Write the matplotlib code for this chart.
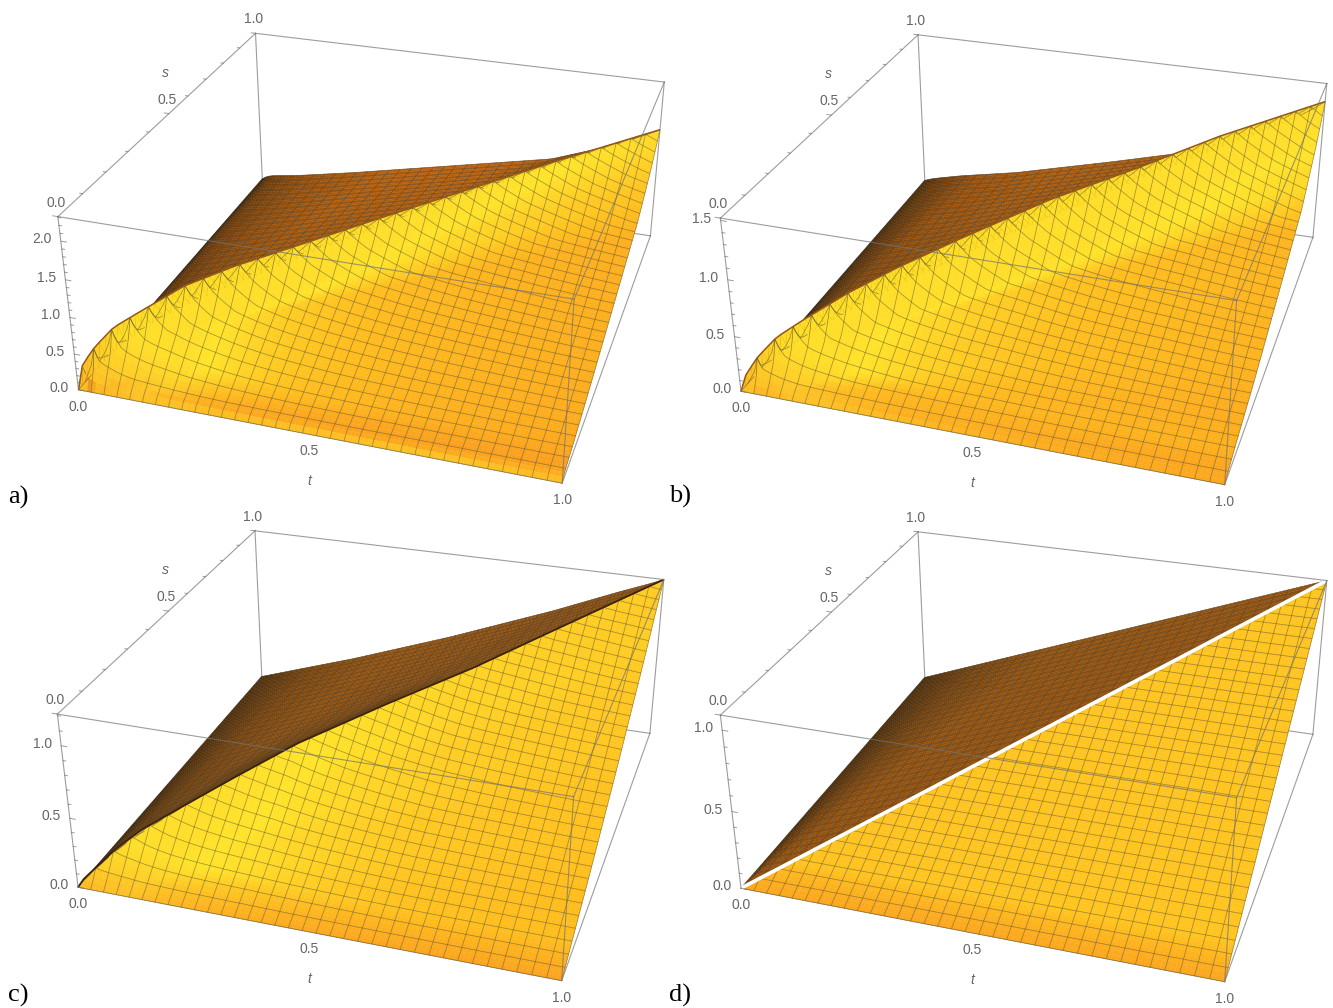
import numpy as np
import matplotlib
matplotlib.use("Agg")
import matplotlib.pyplot as plt
from mpl_toolkits.mplot3d import proj3d
from mpl_toolkits.mplot3d.art3d import Line3DCollection, Poly3DCollection

# -----------------------------
# Values
# -----------------------------
# height along the fold t = s
RIDGE_M = [0, 0.01, 0.03, 0.06, 0.1, 0.17, 0.25, 0.35, 0.5, 0.65, 0.8, 1]
RIDGE_A = [0, 0.33, 0.52, 0.72, 0.84, 1.04, 1.14, 1.21, 1.32, 1.42, 1.52, 1.62]
RIDGE_B = [0, 0.14, 0.27, 0.40, 0.49, 0.63, 0.75, 0.87, 1.03, 1.13, 1.25, 1.35]
RIDGE_C = [0, 0.05, 0.11, 0.20, 0.29, 0.39, 0.50, 0.63, 0.76, 0.875, 1.02, 1.21]
RIDGE_D = [0, 0.011, 0.033, 0.065, 0.109, 0.185, 0.272, 0.382, 0.545, 0.708, 0.872, 1.09]

# share of the fold height as one leaves the fold, against min(t, s) / max(t, s)
SHAPE_R = [0, 0.01, 0.03, 0.1, 0.25, 0.5, 0.75, 0.9, 0.97, 1]
SHAPE_A = [0, 0.03, 0.05, 0.09, 0.20, 0.40, 0.60, 0.81, 0.94, 1]
SHAPE_B = [0, 0.012, 0.03, 0.08, 0.17, 0.36, 0.56, 0.79, 0.93, 1]
SHAPE_C = [0, 0.008, 0.026, 0.088, 0.22, 0.46, 0.72, 0.89, 0.965, 1]
SHAPE_D = [0, 0.01, 0.03, 0.1, 0.25, 0.5, 0.75, 0.9, 0.97, 1]

Z_TOP = [2.31, 1.52, 1.21, 1.09]
Z_TICKS = [[0, 0.5, 1, 1.5, 2], [0, 0.5, 1, 1.5], [0, 0.5, 1], [0, 0.5, 1]]
TS_TICKS = [0, 0.5, 1]
PANEL_NAMES = ["a)", "b)", "c)", "d)"]

# -----------------------------
# Camera and layout
# -----------------------------
W, H = 1333, 1008
SCALE = 3576.5
ORIGIN_PX = (387.77, 227.3)
PANEL_SHIFT = [(0, 0), (662.5, 1.5), (-0.5, 497.5), (662.5, 498.5)]
PANEL_LABEL_PX = [(18, 497), (680, 496), (18, 995), (680, 995)]

MESH_CELLS = 35
SUB = 3

GRAY_TEXT = "#666666"
BOX_COLOR = (0.45, 0.45, 0.45, 0.7)
MESH_COLOR = (0.28, 0.26, 0.2, 0.5)
RIDGE_LINE = ["#96581a", "#96581a", "#3c240c", "white"]
RIDGE_WIDTH = [1.1, 1.1, 1.3, 2.6]

ORANGE = np.array((250, 155, 30)) / 255
YELLOW_DEG = [0, 10, 20, 32, 48, 62, 75, 88]
YELLOW_RGB = np.array([(245, 150, 30), (252, 168, 28), (255, 190, 28), (255, 228, 40),
                       (255, 205, 35), (240, 150, 30), (180, 100, 20), (110, 65, 15)]) / 255
BROWN_DEG = [0, 10, 20, 40, 70]
BROWN_RGB = np.array([(225, 120, 8), (195, 100, 10), (150, 82, 12),
                      (90, 55, 15), (50, 32, 12)]) / 255


def ramp(deg, stops, rgb):
    return np.stack([np.interp(deg, stops, rgb[:, c]) for c in range(3)], axis=-1)


def build_surface(ridge, shape, z_top):
    # resample the read values so that the mesh runs smooth
    r_fine = np.linspace(0, 1, 1001)
    slope = np.gradient(np.interp(r_fine, SHAPE_R, shape), r_fine)
    narrow = np.convolve(np.pad(slope, 10, mode="edge"), np.ones(21) / 21, mode="valid")
    wide = np.convolve(np.pad(slope, 60, mode="edge"), np.ones(121) / 121, mode="valid")
    g_fine = np.r_[0, np.cumsum((narrow[1:] + narrow[:-1]) / 2 * np.diff(r_fine))]
    g_fine /= g_fine[-1]
    blend = np.clip((r_fine - 0.04) / 0.1, 0, 1)
    shade_slope = narrow * (1 - blend) + wide * blend

    def height(t, s):
        m = np.maximum(t, s)
        r = np.minimum(t, s) / np.maximum(m, 1e-9)
        return np.interp(m, RIDGE_M, ridge) * np.interp(r, r_fine, g_fine)

    def slope_deg(t, s):
        m = np.maximum(t, s)
        r = np.minimum(t, s) / np.maximum(m, 1e-9)
        gain = np.interp(np.maximum(m, 0.004), RIDGE_M, ridge) / np.maximum(m, 0.004)
        return np.degrees(np.arctan(gain * np.interp(r, r_fine, shade_slope) * 0.399 / z_top))

    return height, slope_deg


def draw_panel(fig, k):
    ax = fig.add_subplot(projection="3d", computed_zorder=False)
    ax.set_xlim(0, 1)
    ax.set_ylim(0, 1)
    z_top = Z_TOP[k]
    ax.set_zlim(0, z_top)
    ax.view_init(28.6089, -72.0415, 0.1711)
    ax.set_proj_type("persp", focal_length=0.4303)
    ax.set_box_aspect((1, 0.9953, 0.399))
    ax.set_axis_off()
    ax.patch.set_visible(False)

    # place the axes so that one 2D unit of the projection is SCALE pixels
    x0, x1 = ax.viewLim.intervalx
    y0, y1 = ax.viewLim.intervaly
    cx = ORIGIN_PX[0] + PANEL_SHIFT[k][0]
    cy = ORIGIN_PX[1] + PANEL_SHIFT[k][1]
    left = cx + x0 * SCALE
    top = cy - y1 * SCALE
    w = (x1 - x0) * SCALE
    h = (y1 - y0) * SCALE
    ax.set_position([left / W, 1 - (top + h) / H, w / W, h / H])

    ridge = [RIDGE_A, RIDGE_B, RIDGE_C, RIDGE_D][k]
    shape = [SHAPE_A, SHAPE_B, SHAPE_C, SHAPE_D][k]
    height, slope_deg = build_surface(ridge, shape, z_top)

    n = MESH_CELLS * SUB
    grid = np.linspace(0, 1, n + 1)
    T, S = np.meshgrid(grid, grid)
    Z = height(T, S)
    P = np.stack([T, S, Z], axis=-1)

    def facet_color(tc, sc):
        deg = float(slope_deg(tc, sc))
        if tc > sc:
            r = sc / tc
            if r > 0.25:
                deg = min(deg, 36)
            front = float(np.clip(1 - sc / 0.08, 0, 1))
            color = ramp(deg - 7 * front, YELLOW_DEG, YELLOW_RGB)
            if deg < 55:
                color = color * (1 - 0.5 * front) + ORANGE * 0.5 * front
            return color
        r = tc / sc
        return ramp(deg, BROWN_DEG, BROWN_RGB) * np.interp(r, [0, 0.05, 0.15, 0.35], [0.5, 0.62, 0.82, 1])

    # strips of the surface, far to near, so the mesh is hidden by what stands in front
    for j in range(MESH_CELLS - 1, -1, -1):
        polys, colors = [], []
        for row in range(j * SUB, (j + 1) * SUB):
            for i in range(n):
                a, b = P[row, i], P[row, i + 1]
                c, d = P[row + 1, i + 1], P[row + 1, i]
                if i == row:
                    polys.append([a, b, c, c])
                    colors.append(facet_color(grid[i] + 0.66 / n, grid[row] + 0.33 / n))
                    polys.append([a, c, d, d])
                    colors.append(facet_color(grid[i] + 0.33 / n, grid[row] + 0.66 / n))
                else:
                    polys.append([a, b, c, d])
                    colors.append(facet_color(grid[i] + 0.5 / n, grid[row] + 0.5 / n))
        colors = np.clip(np.array(colors), 0, 1)
        order = 10 + 2 * (MESH_CELLS - j)
        faces = Poly3DCollection(polys, facecolors=colors, edgecolors=colors, linewidths=0.25)
        faces.set_zorder(order)
        ax.add_collection3d(faces, autolim=False)

        lines = [P[j * SUB, :]]
        if j == MESH_CELLS - 1:
            lines.append(P[n, :])
        for m in range(MESH_CELLS + 1):
            lines.append(P[j * SUB:(j + 1) * SUB + 1, m * SUB])
        mesh = Line3DCollection(lines, colors=[MESH_COLOR], linewidths=0.55)
        mesh.set_zorder(order + 3)
        ax.add_collection3d(mesh, autolim=False)

    top_z = 200
    fold = np.stack([grid, grid, height(grid, grid)], axis=-1)
    ax.plot(fold[:, 0], fold[:, 1], fold[:, 2], color=RIDGE_LINE[k], lw=RIDGE_WIDTH[k],
            zorder=top_z - 1, solid_capstyle="butt")

    # bounding box: floor edges behind the surface, the rest in front of it
    corner = lambda a, b, c: (a, b, c * z_top)
    back = [((0, 0, 0), (1, 0, 0)), ((1, 0, 0), (1, 1, 0)), ((1, 1, 0), (0, 1, 0)),
            ((0, 1, 0), (0, 0, 0)), ((0, 1, 0), (0, 1, 1))]
    front = [((0, 0, 1), (1, 0, 1)), ((1, 0, 1), (1, 1, 1)), ((1, 1, 1), (0, 1, 1)), ((0, 1, 1), (0, 0, 1)),
             ((0, 0, 0), (0, 0, 1)), ((1, 0, 0), (1, 0, 1)), ((1, 1, 0), (1, 1, 1))]
    for p, q in back:
        ax.plot(*zip(corner(*p), corner(*q)), color=BOX_COLOR, lw=0.8, zorder=1)
    for p, q in front:
        ax.plot(*zip(corner(*p), corner(*q)), color=BOX_COLOR, lw=0.8, zorder=top_z)

    # small ticks on the s and z edges
    for v in np.arange(0, 1.001, 0.1):
        size = 0.011 if abs(v * 2 - round(v * 2)) < 1e-6 else 0.006
        ax.plot([0, -size], [v, v], [z_top, z_top], color=BOX_COLOR, lw=0.7, zorder=top_z)
    for v in np.arange(0, z_top, 0.1):
        size = 0.012 if abs(v * 2 - round(v * 2)) < 1e-6 else 0.006
        ax.plot([0, size], [0, 0], [v, v], color=BOX_COLOR, lw=0.7, zorder=top_z)

    M = ax.get_proj()

    def label(x, y, z, text, dx, dy, **kw):
        X, Y, _ = proj3d.proj_transform(x, y, z, M)
        px = cx + SCALE * X + dx
        py = cy - SCALE * Y - dy
        fig.text(px / W, 1 - py / H, text, ha="center", va="center", fontsize=10,
                 color=GRAY_TEXT, family="Liberation Sans", **kw)

    for v in Z_TICKS[k]:
        label(0, 0, v, f"{v:.1f}", -19, 2)
    for v in TS_TICKS:
        label(0, v, z_top, f"{v:.1f}", -2, 14)
        label(v, 0, 0, f"{v:.1f}", 0, -17)
    label(0, 0.5, z_top, "s", -3, 41, style="italic")
    label(0.5, 0, 0, "t", 0, -47, style="italic")

    x, y = PANEL_LABEL_PX[k]
    fig.text(x / W, 1 - y / H, PANEL_NAMES[k], fontsize=19, family="Liberation Serif",
             color="black", ha="center", va="center")


def main():
    fig = plt.figure(figsize=(W / 100, H / 100), dpi=100, facecolor="white")
    for k in range(4):
        draw_panel(fig, k)
    fig.savefig("out.png", dpi=100)
    plt.close(fig)


if __name__ == "__main__":
    main()
